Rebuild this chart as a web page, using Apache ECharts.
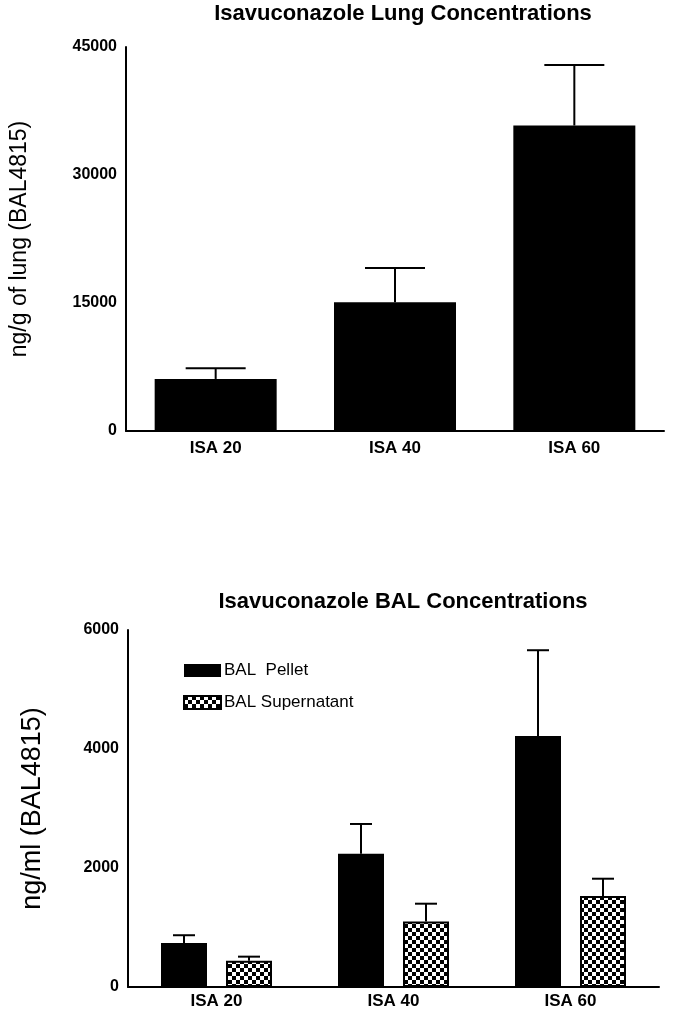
<!DOCTYPE html>
<html>
<head>
<meta charset="utf-8">
<script src="https://cdn.jsdelivr.net/npm/echarts@6/dist/echarts.min.js"></script>
<style>
  html, body { margin: 0; padding: 0; background: #fff; }
  #chart { width: 680px; height: 1010px; }
</style>
</head>
<body>
<div id="chart"></div>
<script>
// categories shared by both panels
const groups = ['ISA 20', 'ISA 40', 'ISA 60'];

// lung concentrations, ng/g (mean and mean + SD)
const lungMean = [6100, 15100, 35800];
const lungUpper = [7350, 19100, 42900];
const lungTicks = [0, 15000, 30000, 45000];

// BAL concentrations, ng/ml
const pelletMean = [740, 2240, 4220];
const pelletUpper = [870, 2740, 5660];
const superMean = [440, 1100, 1530];
const superUpper = [510, 1400, 1820];
const balTicks = [0, 2000, 4000, 6000];

const bold = 'Liberation Sans';
const narrow = "'Liberation Sans Narrow', 'Liberation Sans', sans-serif";

// checkerboard fill used for the supernatant bars
function checker() {
  const c = document.createElement('canvas');
  c.width = 8; c.height = 8;
  const ctx = c.getContext('2d');
  ctx.fillStyle = '#fff';
  ctx.fillRect(0, 0, 8, 8);
  ctx.fillStyle = '#000';
  ctx.fillRect(0, 0, 4, 4);
  ctx.fillRect(4, 4, 4, 4);
  return c;
}
const checkerFill = { image: checker(), repeat: 'repeat' };

// upward error bar, shifted by offset px from the category centre
function errorBar(offset, capHalf) {
  return function (params, api) {
    const lo = api.coord([api.value(0), api.value(1)]);
    const hi = api.coord([api.value(0), api.value(2)]);
    const x = lo[0] + offset;
    const style = { stroke: '#000', lineWidth: 2 };
    return {
      type: 'group',
      children: [
        { type: 'line', shape: { x1: x, y1: lo[1], x2: x, y2: hi[1] }, style: style },
        { type: 'line', shape: { x1: x - capHalf, y1: hi[1], x2: x + capHalf, y2: hi[1] }, style: style }
      ]
    };
  };
}

const axisLine = { lineStyle: { color: '#000', width: 2 } };
const axisTick = { length: 8, lineStyle: { color: '#000', width: 2 } };
const tickLabel = {
  color: '#000', fontFamily: bold, fontWeight: 'bold', fontSize: 16,
  formatter: v => String(v)
};

const barWidth = 46;
const barGap = 19;
const shift = (barWidth + barGap) / 2;

const chart = echarts.init(document.getElementById('chart'));

chart.setOption({
  animation: false,
  title: [
    {
      text: 'Isavuconazole Lung Concentrations',
      left: 398, top: -2, textAlign: 'center',
      textStyle: { fontFamily: bold, fontWeight: 'bold', fontSize: 22, color: '#000' }
    },
    {
      text: 'Isavuconazole BAL Concentrations',
      left: 398, top: 586, textAlign: 'center',
      textStyle: { fontFamily: bold, fontWeight: 'bold', fontSize: 22, color: '#000' }
    }
  ],
  legend: {
    data: ['BAL  Pellet', 'BAL Supernatant'],
    orient: 'vertical',
    left: 183, top: 662, padding: 0,
    icon: 'rect',
    itemWidth: 37, itemHeight: 13, itemGap: 15,
    textStyle: { fontFamily: narrow, fontSize: 17, color: '#000', padding: [0, 0, 0, -2] }
  },
  grid: [
    { left: 126, right: 16, top: 47, height: 384 },
    { left: 128, right: 21, top: 630, height: 357 }
  ],
  xAxis: [
    {
      gridIndex: 0, type: 'category', data: groups,
      axisLine: axisLine,
      axisTick: Object.assign({ alignWithLabel: true }, axisTick, { length: 7 }),
      axisLabel: Object.assign({ margin: 9 }, tickLabel, { fontSize: 17 })
    },
    {
      gridIndex: 1, type: 'category', data: groups,
      axisLine: axisLine,
      axisTick: Object.assign({ alignWithLabel: true }, axisTick, { length: 7 }),
      axisLabel: Object.assign({ margin: 6 }, tickLabel, { fontSize: 17 })
    }
  ],
  yAxis: [
    {
      gridIndex: 0, type: 'value',
      min: lungTicks[0], max: lungTicks[lungTicks.length - 1], interval: lungTicks[1] - lungTicks[0],
      name: 'ng/g of lung (BAL4815)', nameLocation: 'middle', nameGap: 95,
      nameTextStyle: { fontFamily: 'Liberation Sans', fontSize: 23, color: '#000' },
      axisLine: Object.assign({ show: true }, axisLine),
      axisTick: axisTick,
      splitLine: { show: false },
      axisLabel: Object.assign({ margin: 9 }, tickLabel)
    },
    {
      gridIndex: 1, type: 'value',
      min: balTicks[0], max: balTicks[balTicks.length - 1], interval: balTicks[1] - balTicks[0],
      name: 'ng/ml (BAL4815)', nameLocation: 'middle', nameGap: 82,
      nameTextStyle: { fontFamily: 'Liberation Sans', fontSize: 27, color: '#000' },
      axisLine: Object.assign({ show: true }, axisLine),
      axisTick: axisTick,
      splitLine: { show: false },
      axisLabel: Object.assign({ margin: 9 }, tickLabel)
    }
  ],
  series: [
    {
      type: 'bar', xAxisIndex: 0, yAxisIndex: 0,
      data: lungMean, barWidth: 122,
      itemStyle: { color: '#000' }
    },
    {
      type: 'custom', xAxisIndex: 0, yAxisIndex: 0, z: 3,
      renderItem: errorBar(0, 30),
      encode: { x: 0, y: [1, 2] },
      data: groups.map((g, i) => [i, lungMean[i], lungUpper[i]])
    },
    {
      name: 'BAL  Pellet',
      type: 'bar', xAxisIndex: 1, yAxisIndex: 1,
      data: pelletMean, barWidth: barWidth, barGap: (barGap / barWidth * 100) + '%',
      itemStyle: { color: '#000' }
    },
    {
      name: 'BAL Supernatant',
      type: 'bar', xAxisIndex: 1, yAxisIndex: 1,
      data: superMean, barWidth: barWidth,
      itemStyle: { color: checkerFill, borderColor: '#000', borderWidth: 2 }
    },
    {
      type: 'custom', xAxisIndex: 1, yAxisIndex: 1, z: 3,
      renderItem: errorBar(-shift, 11),
      encode: { x: 0, y: [1, 2] },
      data: groups.map((g, i) => [i, pelletMean[i], pelletUpper[i]])
    },
    {
      type: 'custom', xAxisIndex: 1, yAxisIndex: 1, z: 3,
      renderItem: errorBar(shift, 11),
      encode: { x: 0, y: [1, 2] },
      data: groups.map((g, i) => [i, superMean[i], superUpper[i]])
    }
  ]
});
</script>
</body>
</html>
